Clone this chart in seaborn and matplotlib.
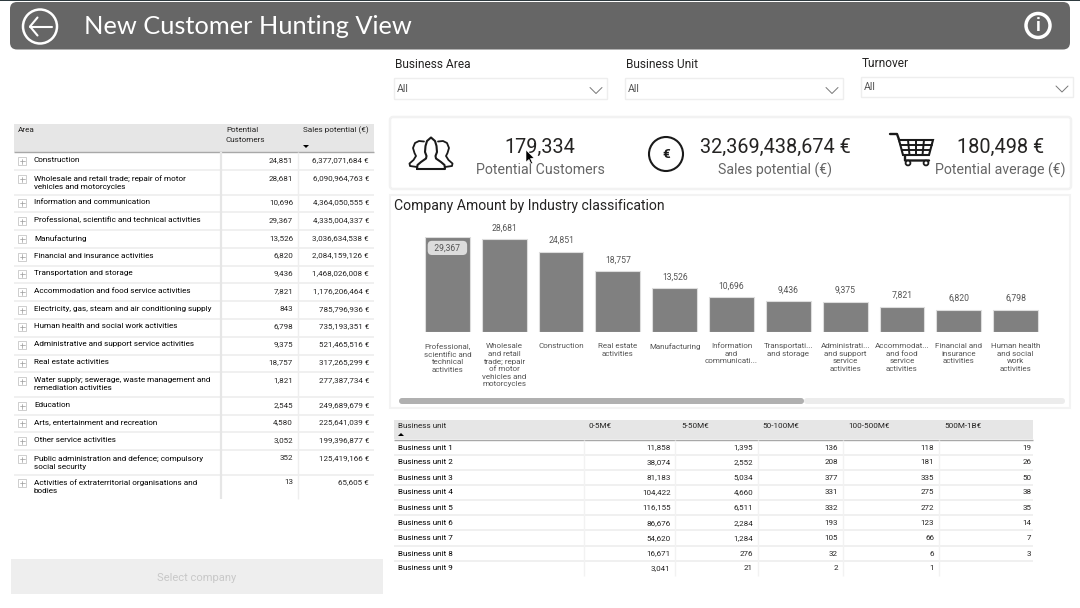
import matplotlib
matplotlib.use("Agg")
import matplotlib.pyplot as plt
import seaborn as sns
from matplotlib.patches import FancyBboxPatch, Rectangle, Circle, Polygon

# left table
area_names = [
    "Construction",
    "Wholesale and retail trade; repair of motor\nvehicles and motorcycles",
    "Information and communication",
    "Professional, scientific and technical activities",
    "Manufacturing",
    "Financial and insurance activities",
    "Transportation and storage",
    "Accommodation and food service activities",
    "Electricity, gas, steam and air conditioning supply",
    "Human health and social work activities",
    "Administrative and support service activities",
    "Real estate activities",
    "Water supply; sewerage, waste management and\nremediation activities",
    "Education",
    "Arts, entertainment and recreation",
    "Other service activities",
    "Public administration and defence; compulsory\nsocial security",
    "Activities of extraterritorial organisations and\nbodies",
]
area_customers = ["24,851", "28,681", "10,696", "29,367", "13,526", "6,820", "9,436", "7,821", "843",
                  "6,798", "9,375", "18,757", "1,821", "2,545", "4,580", "3,052", "352", "13"]
area_sales = ["6,377,071,684 €", "6,090,964,763 €", "4,364,050,555 €", "4,335,004,337 €",
              "3,036,634,538 €", "2,084,159,126 €", "1,468,026,008 €", "1,176,206,464 €",
              "785,796,936 €", "735,193,351 €", "521,465,516 €", "317,265,299 €",
              "277,387,734 €", "249,689,679 €", "225,641,039 €", "199,396,877 €",
              "125,419,166 €", "65,605 €"]

# bar chart
bar_labels = [
    "Professional,\nscientific and\ntechnical\nactivities",
    "Wholesale\nand retail\ntrade; repair\nof motor\nvehicles and\nmotorcycles",
    "Construction",
    "Real estate\nactivities",
    "Manufacturing",
    "Information\nand\ncommunicati...",
    "Transportati...\nand storage",
    "Administrati...\nand support\nservice\nactivities",
    "Accommodat...\nand food\nservice\nactivities",
    "Financial and\ninsurance\nactivities",
    "Human health\nand social\nwork\nactivities",
]
bar_values = [29367, 28681, 24851, 18757, 13526, 10696, 9436, 9375, 7821, 6820, 6798]

# lower table
unit_names = ["Business unit %d" % i for i in range(1, 10)]
unit_headers = ["0-5M€", "5-50M€", "50-100M€", "100-500M€", "500M-1B€"]
band_0_5 = ["11,858", "38,074", "81,183", "104,422", "116,155", "86,676", "54,620", "16,671", "3,041"]
band_5_50 = ["1,395", "2,552", "5,034", "4,660", "6,511", "2,284", "1,284", "276", "21"]
band_50_100 = ["136", "208", "377", "331", "332", "193", "105", "32", "2"]
band_100_500 = ["118", "181", "335", "275", "272", "123", "66", "6", "1"]
band_500_1b = ["19", "26", "50", "38", "35", "14", "7", "3", ""]

# KPI cards
kpi_values = ["179,334", "32,369,438,674 €", "180,498 €"]
kpi_names = ["Potential Customers", "Sales potential (€)", "Potential average (€)"]

sns.set_theme(style="white")
plt.rcParams["font.family"] = ["Roboto", "DejaVu Sans"]

fig = plt.figure(figsize=(10.8, 6.08), dpi=100, facecolor="white")

# page layer in pixel coordinates
page = fig.add_axes([0, 0, 1, 1])
page.set_xlim(0, 1080)
page.set_ylim(608, 0)
page.axis("off")

TXT = "#252423"
ICON = "#1a1a1a"


def rrect(x0, y0, x1, y1, r, fc, ec="none", lw=0, z=1):
    page.add_patch(FancyBboxPatch((x0 + r, y0 + r), x1 - x0 - 2 * r, y1 - y0 - 2 * r,
                                  boxstyle="round,pad=%f,rounding_size=%f" % (r, r),
                                  fc=fc, ec=ec, lw=lw, zorder=z))


def hline(x0, x1, y, c="#ededed", lw=1.2, z=2):
    page.plot([x0, x1], [y, y], color=c, lw=lw, zorder=z, solid_capstyle="butt")


def vline(x, y0, y1, c="#eeeeee", lw=1.2, z=2):
    page.plot([x, x], [y0, y1], color=c, lw=lw, zorder=z, solid_capstyle="butt")


# title bar
page.add_patch(Rectangle((0, 0), 1080, 1.2, fc="#2f3b40", ec="none", zorder=0.5))
rrect(10, 2, 1070, 49.5, 7, "#666666")
page.text(84, 26, "New Customer Hunting View", color="white", fontsize=18.3, va="center",
          family="Lato", zorder=5)
page.add_patch(Circle((40, 26.5), 17, fc="none", ec="white", lw=1.8, zorder=5))
page.plot([30, 52], [26.5, 26.5], color="white", lw=1.5, zorder=5)
page.plot([37.5, 30, 37.5], [17.5, 26.5, 35.5], color="white", lw=1.5, zorder=5)
page.add_patch(Circle((1038, 25.5), 12, fc="none", ec="white", lw=2.5, zorder=5))
page.text(1038, 26, "i", color="white", fontsize=13, fontweight="bold", ha="center", va="center", zorder=5)

# slicers
slicers = [("Business Area", 394, 607, 64, 78, 99), ("Business Unit", 625, 843, 64, 78, 99),
           ("Turnover", 861, 1073, 63, 77, 97)]
for name, x0, x1, ly, y0, y1 in slicers:
    page.text(x0 + 1, ly + 0.7, name, fontsize=8.6, color=TXT, va="center")
    page.add_patch(Rectangle((x0, y0), x1 - x0, y1 - y0, fc="white", ec="#eeeeee", lw=1))
    mid = (y0 + y1) / 2
    page.text(x0 + 3, mid + 0.5, "All", fontsize=7.6, color="#555555", va="center")
    page.plot([x1 - 17, x1 - 11, x1 - 5], [mid - 1, mid + 5, mid - 1], color="#777777", lw=0.7)

# left table
rrect(14, 124, 374, 152, 0, "#e6e6e6")
hline(14, 374, 152, c="#a8a8a8", lw=1)
page.text(18, 130.5, "Area", fontsize=5.9, color=TXT, va="center")
page.text(226, 130.5, "Potential", fontsize=5.9, color=TXT, va="center")
page.text(226, 139.5, "Customers", fontsize=5.9, color=TXT, va="center")
page.text(303, 130.5, "Sales potential (€)", fontsize=5.9, color=TXT, va="center")
page.add_patch(Polygon([[303, 145], [309, 145], [306, 148]], fc="black", ec="none", zorder=3))

area_y = [160, 178, 202, 220, 238, 255.5, 273, 291, 309, 326, 344, 362, 380, 405, 422, 440, 458, 482]
area_seps = [170, 195, 212, 230, 248, 266, 283, 301, 319, 337, 355, 372, 397, 415, 432, 450, 475]
for s in area_seps:
    hline(14, 374, s)
vline(220.5, 152, 499, c="#e6e6e6", lw=1.6)
vline(297.5, 152, 499, lw=1)
for y, name, cust, sales in zip(area_y, area_names, area_customers, area_sales):
    page.add_patch(Rectangle((18, y - 3), 8, 8, fc="white", ec="#bbbbbb", lw=0.5, zorder=3))
    page.plot([19.5, 24.5], [y + 1, y + 1], color="#999999", lw=0.5, zorder=4)
    page.plot([22, 22], [y - 1.5, y + 3.5], color="#999999", lw=0.5, zorder=4)
    page.text(34, y - 3, name, fontsize=5.9, color="black", va="top", linespacing=1.45, zorder=4)
    page.text(293, y, cust, fontsize=5.8, color=TXT, va="center", ha="right", zorder=4)
    page.text(369, y, sales, fontsize=5.8, color=TXT, va="center", ha="right", zorder=4)

# select button
rrect(11, 559, 383, 594, 0, "#eeeeee")
page.text(197, 578, "Select company", fontsize=8, color="#c8c8c8", ha="center", va="center")

# KPI card
rrect(390, 117, 1071, 189, 3, "white", ec="#f2f2f2", lw=1.8)
kpi_x = [540, 775.5, 1000.5]
for x, val, name in zip(kpi_x, kpi_values, kpi_names):
    page.text(x, 147, val, fontsize=14.3, color=TXT, ha="center", va="center", zorder=3)
    page.text(x, 170, name, fontsize=10.2, color="#666666", ha="center", va="center", zorder=3)

# people icon
left_fig = [(424, 141.5), (419, 141), (415, 143), (413, 148), (414.5, 153), (416, 156), (413.5, 160),
            (409.5, 163.5), (410, 166), (417, 167)]
page.plot([p[0] for p in left_fig], [p[1] for p in left_fig], color=ICON, lw=1.3, zorder=3)
page.plot([862 - p[0] for p in left_fig], [p[1] for p in left_fig], color=ICON, lw=1.3, zorder=3)
mid_fig = [(417, 169), (417.5, 165), (421, 162), (426, 158.5), (426.5, 156), (425, 152), (425.5, 146),
           (427, 141), (431, 137.5), (435, 141), (436.5, 146), (437, 152), (435.5, 156), (436, 158.5),
           (441, 162), (444.5, 165), (445, 169), (417, 169)]
page.plot([p[0] for p in mid_fig], [p[1] for p in mid_fig], color=ICON, lw=1.5, zorder=3)

# euro icon
page.add_patch(Circle((666, 154), 17, fc="white", ec=ICON, lw=1.5, zorder=3))
page.text(666, 154.5, "€", fontsize=9.5, fontweight="bold", color=ICON, ha="center", va="center", zorder=4)

# cart icon
page.plot([890, 897, 905, 905, 929], [134, 134, 156, 160.5, 160.5], color=ICON, lw=1.7, zorder=3)
page.add_patch(Polygon([[899, 140], [933, 140], [929, 155], [903, 155]], fc="white", ec=ICON, lw=1.5, zorder=3))
for x_top, x_bot in [(908, 909.5), (916, 916), (924, 922.5)]:
    page.plot([x_top, x_bot], [140, 155], color=ICON, lw=1.4, zorder=4)
for gy, x0, x1 in [(145, 900.5, 931.5), (150, 902, 930)]:
    page.plot([x0, x1], [gy, gy], color=ICON, lw=1.4, zorder=4)
page.add_patch(Circle((908, 163), 2.4, fc="white", ec=ICON, lw=1.3, zorder=4))
page.add_patch(Circle((926, 163), 2.4, fc="white", ec=ICON, lw=1.3, zorder=4))

# chart card
page.add_patch(Rectangle((390, 195), 680, 213, fc="white", ec="#f3f3f3", lw=1.5))
page.text(394, 206, "Company Amount by Industry classification", fontsize=10.1, color=TXT, va="center", zorder=3)
rrect(399, 398, 804, 404, 3, "#b0b0b0", z=3)
rrect(804, 398, 1065, 404, 3, "#ececec", z=2)

# bars
bar_ax = fig.add_axes([419 / 1080, 1 - 332 / 608, (1044 - 419) / 1080, 95 / 608])
bar_ax.patch.set_alpha(0)
sns.barplot(x=bar_labels, y=bar_values, order=bar_labels, color="#808080", saturation=1, width=0.79,
            edgecolor="#dddddd", linewidth=0.8, ax=bar_ax)
bar_ax.set_ylim(0, max(bar_values))
bar_ax.set_xlim(-0.5, len(bar_values) - 0.5)
sns.despine(ax=bar_ax, left=True, bottom=True)
bar_ax.set_yticks([])
bar_ax.set_ylabel("")
bar_ax.tick_params(axis="x", length=0, pad=8.2)
for tl in bar_ax.get_xticklabels():
    tl.set_fontsize(5.8)
    tl.set_color("#555555")
    tl.set_linespacing(1.31)
val_text = [""] + ["{:,}".format(v) for v in bar_values[1:]]
bar_ax.bar_label(bar_ax.containers[0], labels=val_text, padding=5, fontsize=6.2, color="#555555", clip_on=False)
bar_ax.text(0, bar_values[0] * 0.885, "  {:,}  ".format(bar_values[0]), ha="center", va="center", fontsize=6.2, color="#555555",
            bbox=dict(boxstyle="round,pad=0.3,rounding_size=0.5", fc="#dcdcdc", ec="none"))

# lower table
rrect(394, 420, 1033, 439, 0, "#e6e6e6")
hline(394, 1033, 439.5, c="#a8a8a8", lw=1)
page.text(398, 426.5, "Business unit", fontsize=5.9, color=TXT, va="center")
page.add_patch(Polygon([[398, 436], [404, 436], [401, 433]], fc="black", ec="none", zorder=3))
head_x = [588.5, 681, 762, 848, 944]
for x, h in zip(head_x, unit_headers):
    page.text(x, 426.5, h, fontsize=5.9, color=TXT, va="center")
unit_y = [447, 462, 477, 492, 507, 522.5, 538, 553, 568]
for s in [454.5, 469.5, 485, 500, 515, 530, 546, 561]:
    hline(394, 1033, s)
for x in [584, 675, 757.5, 843, 939]:
    vline(x, 440, 576, c="#f2f2f2", lw=1)
right_x = [670.5, 753, 838, 934, 1031.5]
bands = [band_0_5, band_5_50, band_50_100, band_100_500, band_500_1b]
for i, y in enumerate(unit_y):
    page.text(398, y + 0.5, unit_names[i], fontsize=5.9, color="black", va="center", zorder=3)
    for x, col in zip(right_x, bands):
        page.text(x, y + 0.5, col[i], fontsize=5.8, color=TXT, va="center", ha="right", zorder=3)

# mouse pointer left in the screenshot
page.add_patch(Polygon([[526, 150], [526, 162], [529, 159.5], [531, 164], [532.5, 163], [530.5, 158.5], [534, 158]],
                       fc="black", ec="white", lw=0.4, zorder=20))

fig.savefig("out.png", dpi=100)
